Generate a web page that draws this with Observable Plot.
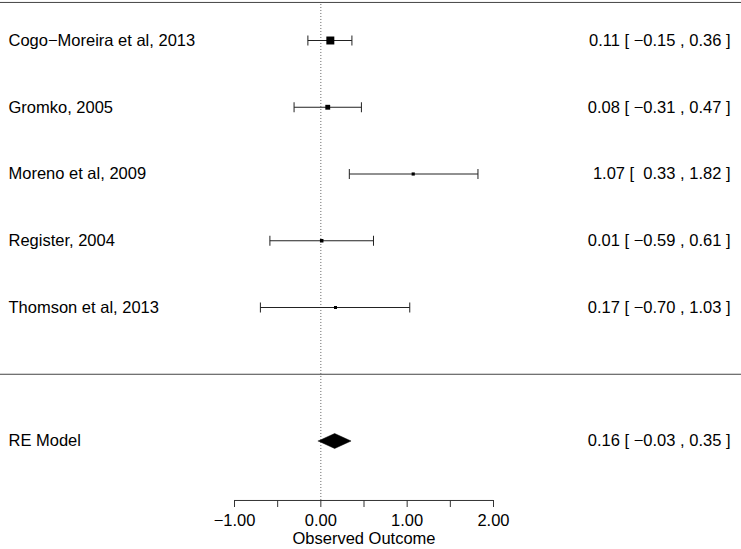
<!DOCTYPE html>
<html>
<head>
<meta charset="utf-8">
<script src="https://cdn.jsdelivr.net/npm/d3@7"></script>
<script src="https://cdn.jsdelivr.net/npm/@observablehq/plot@0.6"></script>
<style>
  html, body { margin: 0; padding: 0; background: #fff; }
  #chart svg { display: block; }
</style>
</head>
<body>
<div id="chart"></div>
<script>
// ---- data ----
const studies   = ["Cogo\u2212Moreira et al, 2013", "Gromko, 2005", "Moreno et al, 2009", "Register, 2004", "Thomson et al, 2013"];
const estimates = [0.11, 0.08, 1.07, 0.01, 0.17];
const lowers    = [-0.15, -0.31, 0.33, -0.59, -0.70];
const uppers    = [0.36, 0.47, 1.82, 0.61, 1.03];
const weights   = [55.2, 23.6, 6.4, 10.0, 4.8];   // % weight (square size)
const rows      = [5, 4, 3, 2, 1];

const summaryLabel = "RE Model";
const summaryEst = 0.16, summaryLo = -0.03, summaryHi = 0.35;
const summaryRow = -1;

const xTicks = [-1, -0.5, 0, 0.5, 1, 1.5, 2];
const xLabel = "Observed Outcome";

// ---- build ----
const f2 = d3.format(".2f");
const lowStr = lowers.concat([summaryLo]).map(f2);
const lowW = d3.max(lowStr, s => s.length);
const pad = s => " ".repeat(lowW - s.length) + s;

const table = studies.map((s, i) => ({
  label: s, est: estimates[i], lo: lowers[i], hi: uppers[i], w: weights[i], row: rows[i],
  txt: `${f2(estimates[i])} [ ${pad(f2(lowers[i]))} , ${f2(uppers[i])} ]`
}));
const summary = {label: summaryLabel, est: summaryEst, lo: summaryLo, hi: summaryHi, row: summaryRow,
  txt: `${f2(summaryEst)} [ ${pad(f2(summaryLo))} , ${f2(summaryHi)} ]`};

const topRow = 5.57, axisRow = -1.891, sepRow = 0, dh = 0.112;
const diamond = [
  {x: summary.lo, y: summary.row}, {x: summary.est, y: summary.row + dh},
  {x: summary.hi, y: summary.row}, {x: summary.est, y: summary.row - dh},
  {x: summary.lo, y: summary.row}
];

const vcap = { draw(ctx, size) { ctx.moveTo(0, -5); ctx.lineTo(0, 5); } };
const font = "'Liberation Sans', Arial, Helvetica, sans-serif";
const fs = 16.5;

const chart = Plot.plot({
  width: 741,
  height: 549,
  marginLeft: 0, marginRight: 0, marginTop: 0, marginBottom: 49,
  style: {fontFamily: font, fontSize: fs + "px", background: "#fff", color: "#000"},
  x: {domain: [d3.min(xTicks), d3.max(xTicks)], range: [234, 493]},
  y: {domain: [-1, 5], range: [440.5, 40], axis: null},
  r: {type: "linear", domain: [d3.min(weights), d3.max(weights)], range: [1.7, 4.5]},
  marks: [
    Plot.ruleY([topRow, sepRow], {stroke: "#444", strokeWidth: 1}),
    Plot.ruleX([0], {y1: axisRow, y2: topRow, stroke: "#666", strokeDasharray: "1,2"}),
    Plot.link(table, {x1: "lo", x2: "hi", y1: "row", y2: "row", stroke: "#222", strokeWidth: 1}),
    Plot.dot(table, {x: "lo", y: "row", symbol: vcap, r: 3, stroke: "#222", strokeWidth: 1}),
    Plot.dot(table, {x: "hi", y: "row", symbol: vcap, r: 3, stroke: "#222", strokeWidth: 1}),
    Plot.dot(table, {x: "est", y: "row", r: "w", symbol: "square", fill: "#000", stroke: null}),
    Plot.line(diamond, {x: "x", y: "y", fill: "#000", stroke: "#000", strokeWidth: 0.5}),
    Plot.text(table.concat([summary]), {y: "row", text: "label", frameAnchor: "left", textAnchor: "start", dx: 8, fontSize: fs, fill: "#000"}),
    Plot.text(table.concat([summary]), {y: "row", text: "txt", frameAnchor: "right", textAnchor: "end", dx: -11, fontSize: fs, fill: "#000", style: {whiteSpace: "pre"}}),
    Plot.ruleY([axisRow], {x1: d3.min(xTicks), x2: d3.max(xTicks), stroke: "#333"}),
    Plot.axisX({ticks: xTicks, tickFormat: d => Number.isInteger(d) ? f2(d) : "", tickSize: 7, tickPadding: 7, fontSize: fs, label: null, stroke: "#333", fill: "#000"}),
    Plot.text([xLabel], {x: d3.mean(d3.extent(xTicks)), frameAnchor: "bottom", dy: 43, fontSize: fs, fill: "#000"})
  ]
});
document.getElementById("chart").appendChild(chart);
</script>
</body>
</html>
